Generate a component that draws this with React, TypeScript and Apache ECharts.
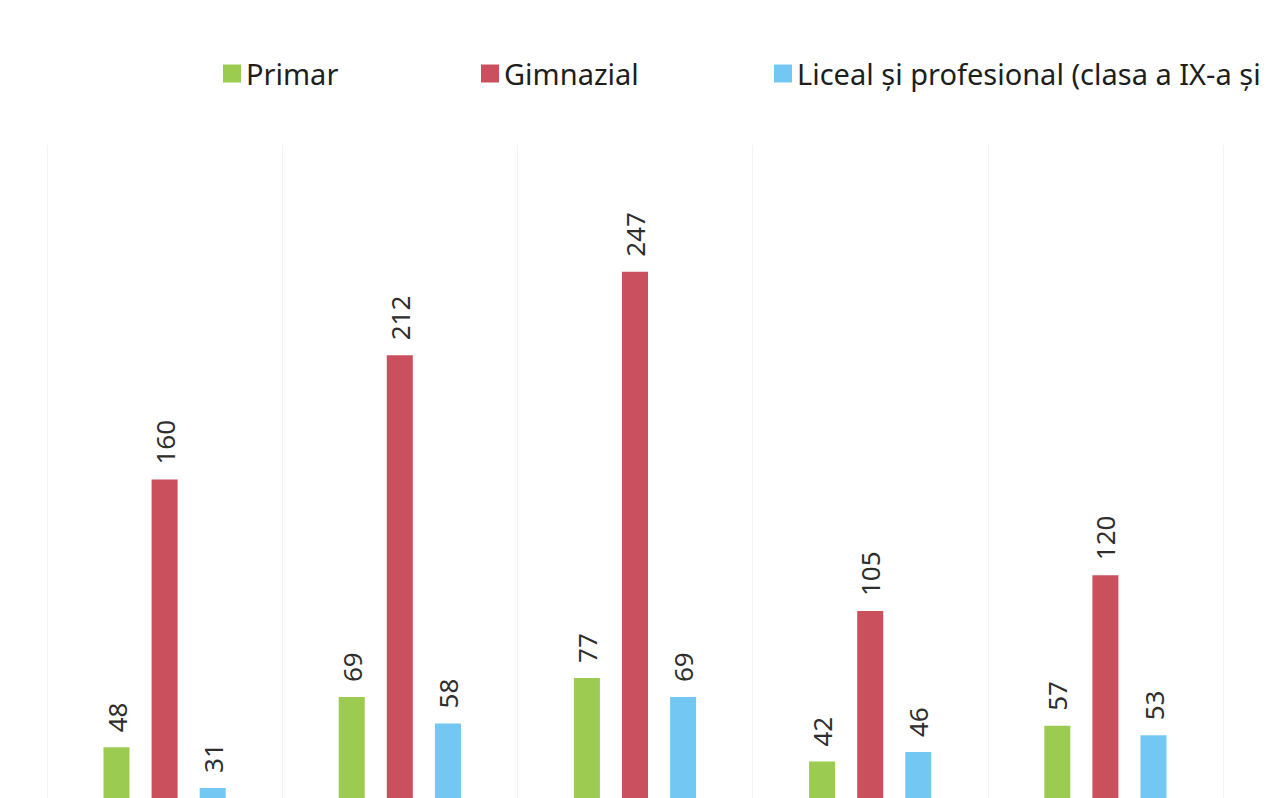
import React, { useEffect, useRef } from "react";
import * as echarts from "echarts";

const categories = ["A", "B", "C", "D", "E"];
const seriesNames = ["Primar", "Gimnazial", "Liceal și profesional (clasa a IX-a și"];
const primar = [48, 69, 77, 42, 57];
const gimnazial = [160, 212, 247, 105, 120];
const liceal = [31, 58, 69, 46, 53];
const colors = ["#9BCB50", "#C9505C", "#72C8F3"];
const legendLefts = [218, 476, 769];

export default function App() {
  const ref = useRef<HTMLDivElement>(null);
  useEffect(() => {
    const chart = echarts.init(ref.current!, null, { renderer: "svg" });
    const values = [primar, gimnazial, liceal];
    const font = "'Noto Sans', sans-serif";
    chart.setOption({
      animation: false,
      backgroundColor: "#ffffff",
      legend: seriesNames.map((n, i) => ({
        data: [n],
        left: legendLefts[i],
        top: 54,
        icon: "rect",
        itemWidth: 18,
        itemHeight: 18,
        itemGap: 10,
        textStyle: { fontSize: 29, color: "#1e1e1e", fontFamily: font },
      })),
      grid: { left: 47, right: 51, top: 145, bottom: 0, containLabel: false },
      xAxis: {
        type: "category",
        data: categories,
        axisLine: { show: false },
        axisTick: { show: false },
        axisLabel: { show: false },
        splitLine: { show: true, lineStyle: { color: "#f3f3f3", width: 1 } },
      },
      yAxis: {
        type: "value",
        min: 0,
        max: 300,
        show: false,
        splitLine: { show: false },
      },
      series: seriesNames.map((n, i) => ({
        name: n,
        type: "bar",
        data: values[i],
        barWidth: 26,
        barGap: "85%",
        itemStyle: { color: colors[i] },
        label: {
          show: true,
          position: "top",
          rotate: 90,
          align: "left",
          verticalAlign: "middle",
          distance: 15,
          fontSize: 26,
          color: "#2e2e2e",
          fontFamily: font,
        },
      })),
    });
    return () => chart.dispose();
  }, []);
  return (
    <div
      style={{
        position: "absolute",
        left: 0,
        top: 0,
        width: 1274,
        height: 798,
        overflow: "hidden",
        background: "#ffffff",
      }}
    >
      <div ref={ref} style={{ width: 1274, height: 862 }} />
    </div>
  );
}
